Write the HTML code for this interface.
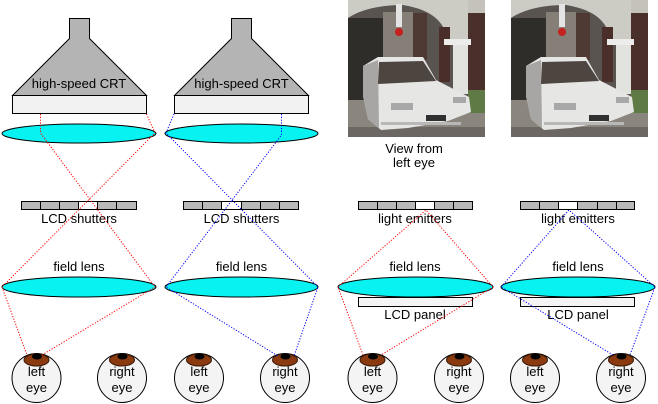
<!DOCTYPE html>
<html><head><meta charset="utf-8"><style>
html,body{margin:0;padding:0;background:#fff;}
svg{display:block;}
text{font-family:"Liberation Sans",Arial,sans-serif;font-size:13px;fill:#000;}
</style></head><body>
<svg width="658" height="404" viewBox="0 0 658 404" xmlns="http://www.w3.org/2000/svg">
<defs>
<g id="photo">
  <rect x="0" y="0" width="137" height="137" fill="#5a5450"/>
  <path d="M0,0 H120 V40 L100,40 C96,22 85,10 55,5 C30,5 12,10 0,18 Z" fill="#cdccc4"/>
  <rect x="120" y="0" width="17" height="13" fill="#c4c2bb"/>
  <rect x="120" y="13" width="17" height="78" fill="#4a302a"/>
  <rect x="0" y="18" width="35" height="84" fill="#2f2d2a"/>
  <rect x="35" y="12" width="30" height="48" fill="#857f77"/>
  <rect x="65" y="13" width="14" height="47" fill="#4e3a32"/>
  <rect x="91" y="27" width="11" height="55" fill="#4a2e2a"/>
  <rect x="105" y="40" width="15" height="54" fill="#e2e2de"/>
  <rect x="96" y="39" width="27" height="6" fill="#ececea"/>
  <rect x="48" y="4" width="6" height="23" fill="#e4e4e4"/>
  <circle cx="51" cy="32" r="4" fill="#c42020"/>
  <rect x="0" y="100" width="137" height="37" fill="#8a857d"/>
  <rect x="120" y="90" width="17" height="23" fill="#5f7a45"/>
  <rect x="0" y="127" width="137" height="10" fill="#6c6762"/>
  <polygon points="15,66 30,57 75,57 88,80 121,97 123,112 100,121 60,128 33,130 20,119 15,96" fill="#e6e6e4"/>
  <polygon points="15,66 30,60 31,128 20,119 15,96" fill="#a8a6a4"/>
  <polygon points="31,62 75,61 88,81 30,84" fill="#4d4540"/>
  <rect x="43" y="103" width="22" height="7" fill="#a8a8a8"/>
  <rect x="105" y="97" width="13" height="6" fill="#a8a8a8"/>
  <rect x="78" y="115" width="20" height="6" fill="#303030"/>
  <rect x="33" y="122" width="80" height="3" fill="#b8b8b8"/>
</g>
</defs>

<rect x="0" y="0" width="658" height="404" fill="#fff"/>

<!-- CRT A -->
<polygon points="69.5,18.5 89.5,18.5 89.5,38.5 146.5,95.5 12.5,95.5 69.5,38.5" fill="#b4b4b4" stroke="#000"/>
<rect x="12.5" y="95.5" width="134" height="18" fill="#f2f2f2" stroke="#000"/>
<text x="79" y="88" text-anchor="middle">high-speed CRT</text>
<!-- CRT B -->
<polygon points="231.5,18.5 251.5,18.5 251.5,38.5 308.5,95.5 174.5,95.5 231.5,38.5" fill="#b4b4b4" stroke="#000"/>
<rect x="174.5" y="95.5" width="134" height="18" fill="#f2f2f2" stroke="#000"/>
<text x="241.5" y="88" text-anchor="middle">high-speed CRT</text>

<!-- top lenses -->
<ellipse cx="79" cy="133.5" rx="77" ry="9.5" fill="#08f2f2" stroke="#000"/>
<ellipse cx="241.5" cy="133.5" rx="76.5" ry="9.5" fill="#08f2f2" stroke="#000"/>

<!-- photos -->
<use href="#photo" transform="translate(348,0)"/>
<use href="#photo" transform="translate(511,0)"/>
<text x="414" y="153" text-anchor="middle">View from</text>
<text x="414" y="167" text-anchor="middle">left eye</text>

<!-- shutters / emitters -->
<g stroke="#000" fill="#b8b8b8">
<rect x="21.5" y="201.5" width="19" height="8"/>
<rect x="40.5" y="201.5" width="19" height="8"/>
<rect x="59.5" y="201.5" width="19" height="8"/>
<rect x="78.5" y="201.5" width="19" height="8" fill="#fff"/>
<rect x="97.5" y="201.5" width="19" height="8"/>
<rect x="116.5" y="201.5" width="20" height="8"/>
<rect x="183.5" y="201.5" width="19" height="8"/>
<rect x="202.5" y="201.5" width="19" height="8"/>
<rect x="221.5" y="201.5" width="20" height="8" fill="#fff"/>
<rect x="241.5" y="201.5" width="19" height="8"/>
<rect x="260.5" y="201.5" width="19" height="8"/>
<rect x="279.5" y="201.5" width="19" height="8"/>
<rect x="358.5" y="201.5" width="19" height="8"/>
<rect x="377.5" y="201.5" width="19" height="8"/>
<rect x="396.5" y="201.5" width="19" height="8"/>
<rect x="415.5" y="201.5" width="19" height="8" fill="#fff"/>
<rect x="434.5" y="201.5" width="19" height="8"/>
<rect x="453.5" y="201.5" width="19" height="8"/>
<rect x="520.5" y="201.5" width="19" height="8"/>
<rect x="539.5" y="201.5" width="19" height="8"/>
<rect x="558.5" y="201.5" width="19" height="8" fill="#fff"/>
<rect x="577.5" y="201.5" width="20" height="8"/>
<rect x="597.5" y="201.5" width="19" height="8"/>
<rect x="616.5" y="201.5" width="18" height="8"/>
</g>
<text x="79" y="223" text-anchor="middle">LCD shutters</text>
<text x="241.5" y="223" text-anchor="middle">LCD shutters</text>
<text x="415" y="223" text-anchor="middle">light emitters</text>
<text x="578" y="223" text-anchor="middle">light emitters</text>

<!-- field lenses -->
<text x="79" y="271" text-anchor="middle">field lens</text>
<text x="241.5" y="271" text-anchor="middle">field lens</text>
<text x="415" y="271" text-anchor="middle">field lens</text>
<text x="578" y="271" text-anchor="middle">field lens</text>
<ellipse cx="79" cy="287" rx="77" ry="10" fill="#08f2f2" stroke="#000"/>
<ellipse cx="241.5" cy="287" rx="76.5" ry="10" fill="#08f2f2" stroke="#000"/>
<ellipse cx="415.5" cy="287" rx="77.5" ry="10" fill="#08f2f2" stroke="#000"/>
<ellipse cx="578" cy="287" rx="77" ry="10" fill="#08f2f2" stroke="#000"/>

<!-- LCD panels -->
<rect x="358.5" y="297.5" width="114" height="9" fill="#f4f4f4" stroke="#000"/>
<rect x="520.5" y="297.5" width="114" height="9" fill="#f4f4f4" stroke="#000"/>
<text x="415" y="319" text-anchor="middle">LCD panel</text>
<text x="578" y="319" text-anchor="middle">LCD panel</text>

<!-- eyes -->
<g stroke="#000" stroke-width="1" fill="#f4f4f4">
<circle cx="36.5" cy="378" r="24.5"/>
<circle cx="122" cy="378" r="24.5"/>
<circle cx="199" cy="378" r="24.5"/>
<circle cx="285" cy="378" r="24.5"/>
<circle cx="372.5" cy="378" r="24.5"/>
<circle cx="459" cy="378" r="24.5"/>
<circle cx="535" cy="378" r="24.5"/>
<circle cx="621" cy="378" r="24.5"/>
</g>
<g fill="#8b3a10" stroke="#3a1a08">
<ellipse cx="36.5" cy="360" rx="12.5" ry="6"/>
<ellipse cx="122" cy="360" rx="12.5" ry="6"/>
<ellipse cx="199" cy="360" rx="12.5" ry="6"/>
<ellipse cx="285" cy="360" rx="12.5" ry="6"/>
<ellipse cx="372.5" cy="360" rx="12.5" ry="6"/>
<ellipse cx="459" cy="360" rx="12.5" ry="6"/>
<ellipse cx="535" cy="360" rx="12.5" ry="6"/>
<ellipse cx="621" cy="360" rx="12.5" ry="6"/>
</g>
<g fill="#000">
<ellipse cx="37" cy="356.5" rx="5" ry="3"/>
<ellipse cx="122.5" cy="356.5" rx="5" ry="3"/>
<ellipse cx="199.5" cy="356.5" rx="5" ry="3"/>
<ellipse cx="285.5" cy="356.5" rx="5" ry="3"/>
<ellipse cx="373" cy="356.5" rx="5" ry="3"/>
<ellipse cx="459.5" cy="356.5" rx="5" ry="3"/>
<ellipse cx="535.5" cy="356.5" rx="5" ry="3"/>
<ellipse cx="621.5" cy="356.5" rx="5" ry="3"/>
</g>
<g text-anchor="middle">
<text x="36.5" y="376">left</text><text x="36.5" y="392">eye</text>
<text x="122" y="376">right</text><text x="122" y="392">eye</text>
<text x="199" y="376">left</text><text x="199" y="392">eye</text>
<text x="285" y="376">right</text><text x="285" y="392">eye</text>
<text x="372.5" y="376">left</text><text x="372.5" y="392">eye</text>
<text x="459" y="376">right</text><text x="459" y="392">eye</text>
<text x="535" y="376">left</text><text x="535" y="392">eye</text>
<text x="621" y="376">right</text><text x="621" y="392">eye</text>
</g>

<!-- light paths -->
<g fill="none" stroke-width="1" stroke-dasharray="1.2 1.6">
<polyline points="40.5,114 40.5,133 155,287 42,355" stroke="#ff0000"/>
<polyline points="146.5,114 155,133 2,287 27,355" stroke="#ff0000"/>
<polyline points="174,114 166,133 318,287 294,356" stroke="#0000ff"/>
<polyline points="281.5,114 281.5,135 166,287 278,356" stroke="#0000ff"/>
<polyline points="363,355 338,287 426,210 493,287 381,355" stroke="#ff0000"/>
<polyline points="613,355 501,287 569,210 655,287 630,355" stroke="#0000ff"/>
</g>
</svg>
</body></html>
